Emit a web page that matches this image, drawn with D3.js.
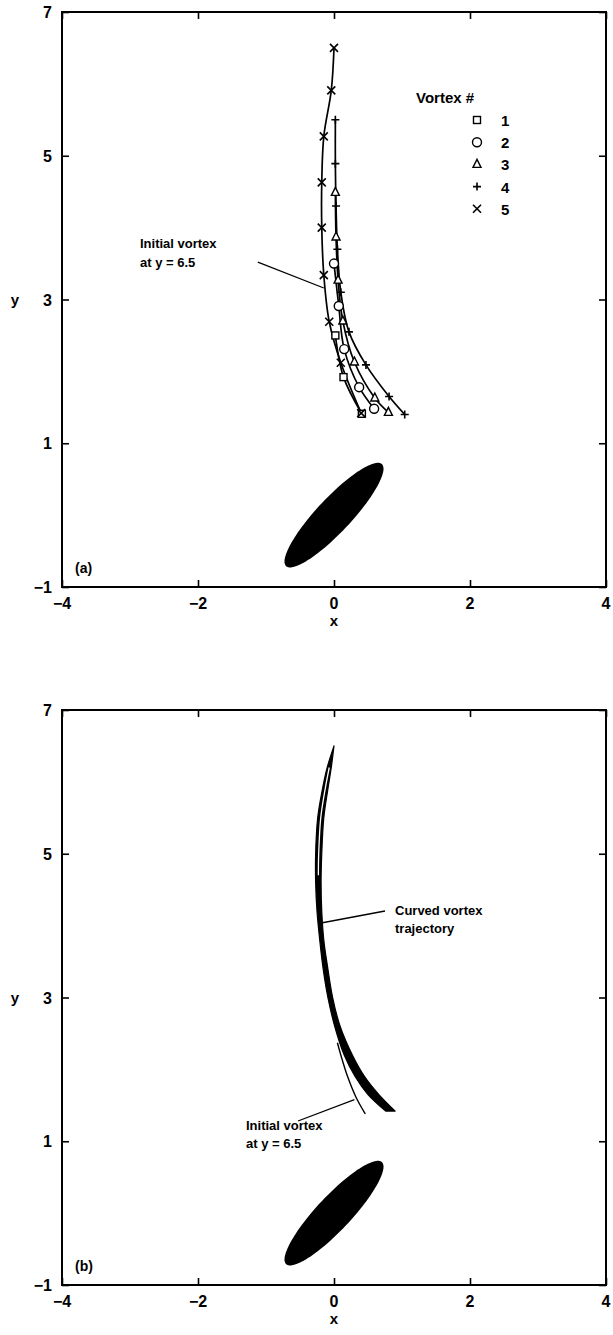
<!DOCTYPE html>
<html>
<head>
<meta charset="utf-8">
<script src="https://cdn.jsdelivr.net/npm/d3@7"></script>
<style>
  html, body { margin: 0; padding: 0; background: #fff; }
  svg { display: block; }
  text { font-family: "Liberation Sans", Arial, Helvetica, sans-serif; font-weight: bold; fill: #000; }
</style>
</head>
<body>
<svg id="fig" width="613" height="1335"></svg>
<script>
// ---- axis ticks ----
const xTicks = [-4, -2, 0, 2, 4];
const yTicks = [-1, 1, 3, 5, 7];

// ---- panel (a): vortex paths, marker positions at equal time steps ----
const v1x = [0.02, 0.14, 0.41];
const v1y = [2.50, 1.92, 1.41];
const v2x = [0.00, 0.07, 0.15, 0.37, 0.59];
const v2y = [3.50, 2.91, 2.31, 1.78, 1.48];
const v3x = [0.02, 0.03, 0.06, 0.13, 0.30, 0.60, 0.80];
const v3y = [4.49, 3.87, 3.27, 2.70, 2.13, 1.63, 1.43];
const v4x = [0.02, 0.02, 0.03, 0.05, 0.10, 0.22, 0.47, 0.81, 1.04];
const v4y = [5.50, 4.89, 4.30, 3.70, 3.10, 2.55, 2.09, 1.65, 1.40];
const v5x = [0.00, -0.04, -0.15, -0.18, -0.18, -0.15, -0.07, 0.10, 0.40];
const v5y = [6.50, 5.91, 5.27, 4.63, 4.00, 3.34, 2.69, 2.12, 1.42];
const vortexIds = ["1", "2", "3", "4", "5"];

// ---- panel (b): curved vortex filament band ----
const bandY     = [6.50, 6.20, 5.90, 5.50, 5.00, 4.60, 4.20, 3.80, 3.40, 3.00, 2.60, 2.20, 1.90, 1.65, 1.42];
const bandLeft  = [0.00, -0.10, -0.17, -0.24, -0.27, -0.27, -0.25, -0.21, -0.16, -0.09, 0.01, 0.15, 0.31, 0.50, 0.76];
const bandRight = [0.00, -0.04, -0.09, -0.15, -0.18, -0.19, -0.18, -0.15, -0.09, -0.02, 0.09, 0.27, 0.45, 0.66, 0.90];
// hollow core near the top of the filament
const coreY = [6.20, 5.90, 5.50, 5.00, 4.70];
const coreX = [-0.07, -0.13, -0.195, -0.225, -0.23];
// straight-start vortex line
const initX = [0.05, 0.10, 0.20, 0.32, 0.46];
const initY = [2.37, 2.20, 1.90, 1.62, 1.38];

// ---- body: ellipse, semi-axes and tilt ----
const bodyA = 1.0, bodyB = 0.245, bodyAngleDeg = 45;

const svg = d3.select("#fig");

function drawPanel(top, bottom, tag) {
  const x = d3.scaleLinear().domain([-4, 4]).range([62, 606]);
  const y = d3.scaleLinear().domain([-1, 7]).range([bottom, top]);
  const g = svg.append("g");

  // frame
  g.append("rect")
    .attr("x", x(-4)).attr("y", y(7))
    .attr("width", x(4) - x(-4)).attr("height", y(-1) - y(7))
    .attr("fill", "none").attr("stroke", "#000").attr("stroke-width", 2);

  const tl = 7;
  // inward ticks on all four sides
  g.append("g").attr("transform", `translate(0,${y(-1)})`)
    .call(d3.axisTop(x).tickValues(xTicks).tickSize(tl).tickFormat(""))
    .call(a => a.select(".domain").remove())
    .call(a => a.selectAll("line").attr("stroke-width", 1.6));
  g.append("g").attr("transform", `translate(0,${y(7)})`)
    .call(d3.axisBottom(x).tickValues(xTicks).tickSize(tl).tickFormat(""))
    .call(a => a.select(".domain").remove())
    .call(a => a.selectAll("line").attr("stroke-width", 1.6));
  g.append("g").attr("transform", `translate(${x(-4)},0)`)
    .call(d3.axisRight(y).tickValues(yTicks).tickSize(tl).tickFormat(""))
    .call(a => a.select(".domain").remove())
    .call(a => a.selectAll("line").attr("stroke-width", 1.6));
  g.append("g").attr("transform", `translate(${x(4)},0)`)
    .call(d3.axisLeft(y).tickValues(yTicks).tickSize(tl).tickFormat(""))
    .call(a => a.select(".domain").remove())
    .call(a => a.selectAll("line").attr("stroke-width", 1.6));

  // tick labels
  const fmt = v => (v < 0 ? "\u2212" + Math.abs(v) : String(v));
  g.selectAll(".xl").data(xTicks).join("text")
    .attr("x", d => x(d)).attr("y", y(-1) + 22)
    .attr("text-anchor", "middle").attr("font-size", 16)
    .text(fmt);
  g.selectAll(".yl").data(yTicks).join("text")
    .attr("x", x(-4) - 10).attr("y", d => y(d) + 6)
    .attr("text-anchor", "end").attr("font-size", 16)
    .text(fmt);
  g.append("text").attr("x", x(0)).attr("y", y(-1) + 39)
    .attr("text-anchor", "middle").attr("font-size", 15).text("x");
  g.append("text").attr("x", 15).attr("y", y(3) + 5)
    .attr("text-anchor", "middle").attr("font-size", 15).text("y");
  g.append("text").attr("x", x(-4) + 13).attr("y", y(-1) - 14)
    .attr("font-size", 14).text(tag);

  // body ellipse
  const th = bodyAngleDeg * Math.PI / 180;
  const pts = d3.range(0, 360, 3).map(t => {
    const r = t * Math.PI / 180;
    const u = bodyA * Math.cos(r), v = bodyB * Math.sin(r);
    return [u * Math.cos(th) - v * Math.sin(th), u * Math.sin(th) + v * Math.cos(th)];
  });
  g.append("path")
    .attr("d", d3.line().x(d => x(d[0])).y(d => y(d[1])).curve(d3.curveLinearClosed)(pts))
    .attr("fill", "#000");

  return { g, x, y };
}

// ---------------- panel (a) ----------------
{
  const { g, x, y } = drawPanel(12, 587, "(a)");
  const series = [
    { xs: v1x, ys: v1y, sym: "square" },
    { xs: v2x, ys: v2y, sym: "circle" },
    { xs: v3x, ys: v3y, sym: "triangle" },
    { xs: v4x, ys: v4y, sym: "plus" },
    { xs: v5x, ys: v5y, sym: "cross" }
  ];
  const line = d3.line().x(d => x(d[0])).y(d => y(d[1])).curve(d3.curveCatmullRom.alpha(0.5));

  function marker(sel, sym, cx, cy) {
    const s = 4;
    if (sym === "square") {
      sel.append("rect").attr("x", cx - s + 0.5).attr("y", cy - s + 0.5)
        .attr("width", 2 * s - 1).attr("height", 2 * s - 1)
        .attr("fill", "#fff").attr("stroke", "#000").attr("stroke-width", 1.4);
    } else if (sym === "circle") {
      sel.append("circle").attr("cx", cx).attr("cy", cy).attr("r", s + 0.5)
        .attr("fill", "#fff").attr("stroke", "#000").attr("stroke-width", 1.4);
    } else if (sym === "triangle") {
      sel.append("path")
        .attr("d", `M${cx},${cy - s - 1}L${cx + s},${cy + s - 1}L${cx - s},${cy + s - 1}Z`)
        .attr("fill", "#fff").attr("stroke", "#000").attr("stroke-width", 1.4);
    } else if (sym === "plus") {
      sel.append("path")
        .attr("d", `M${cx - s},${cy}H${cx + s}M${cx},${cy - s}V${cy + s}`)
        .attr("stroke", "#000").attr("stroke-width", 1.6);
    } else {
      sel.append("path")
        .attr("d", `M${cx - s},${cy - s}L${cx + s},${cy + s}M${cx - s},${cy + s}L${cx + s},${cy - s}`)
        .attr("stroke", "#000").attr("stroke-width", 1.6);
    }
  }

  series.forEach(s => {
    const data = s.xs.map((v, i) => [v, s.ys[i]]);
    g.append("path").attr("d", line(data))
      .attr("fill", "none").attr("stroke", "#000").attr("stroke-width", 1.7);
  });
  series.forEach(s => {
    const mg = g.append("g");
    s.xs.forEach((v, i) => marker(mg, s.sym, x(v), y(s.ys[i])));
  });

  // legend
  g.append("text").attr("x", 416).attr("y", 103).attr("font-size", 15).text("Vortex #");
  series.forEach((s, i) => {
    const cy = 120 + i * 22.2;
    marker(g, s.sym, 477, cy);
    g.append("text").attr("x", 501).attr("y", cy + 6).attr("font-size", 15).text(vortexIds[i]);
  });

  // annotation
  g.append("text").attr("x", 140).attr("y", 248).attr("font-size", 13).text("Initial vortex");
  g.append("text").attr("x", 140).attr("y", 267).attr("font-size", 13).text("at y  =  6.5");
  g.append("line")
    .attr("x1", x(-1.12)).attr("y1", y(3.52)).attr("x2", x(-0.15)).attr("y2", y(3.16))
    .attr("stroke", "#000").attr("stroke-width", 1.3);
}

// ---------------- panel (b) ----------------
{
  const { g, x, y } = drawPanel(710, 1285, "(b)");
  const edge = d3.line().x(d => x(d[0])).y(d => y(d[1])).curve(d3.curveCatmullRom.alpha(0.5));
  const leftPts = bandY.map((v, i) => [bandLeft[i], v]);
  const rightPts = bandY.map((v, i) => [bandRight[i], v]).reverse();
  const bandPath = edge(leftPts) + "L" + edge(rightPts).slice(1) + "Z";
  g.append("path")
    .attr("d", bandPath)
    .attr("fill", "#000").attr("stroke", "#000").attr("stroke-width", 1.2).attr("stroke-linejoin", "round");
  g.append("path")
    .attr("d", edge(coreX.map((v, i) => [v, coreY[i]])))
    .attr("fill", "none").attr("stroke", "#fff").attr("stroke-width", 1.3);
  g.append("path")
    .attr("d", edge(initX.map((v, i) => [v, initY[i]])))
    .attr("fill", "none").attr("stroke", "#000").attr("stroke-width", 1.4);

  g.append("text").attr("x", 395).attr("y", 915).attr("font-size", 13).text("Curved vortex");
  g.append("text").attr("x", 395).attr("y", 933).attr("font-size", 13).text("trajectory");
  g.append("line")
    .attr("x1", x(-0.17)).attr("y1", y(4.04)).attr("x2", 385).attr("y2", 911)
    .attr("stroke", "#000").attr("stroke-width", 1.3);

  g.append("text").attr("x", 246).attr("y", 1130).attr("font-size", 13).text("Initial vortex");
  g.append("text").attr("x", 246).attr("y", 1148).attr("font-size", 13).text("at y  =  6.5");
  g.append("line")
    .attr("x1", 298).attr("y1", 1121).attr("x2", x(0.3)).attr("y2", y(1.58))
    .attr("stroke", "#000").attr("stroke-width", 1.3);
}
</script>
</body>
</html>
